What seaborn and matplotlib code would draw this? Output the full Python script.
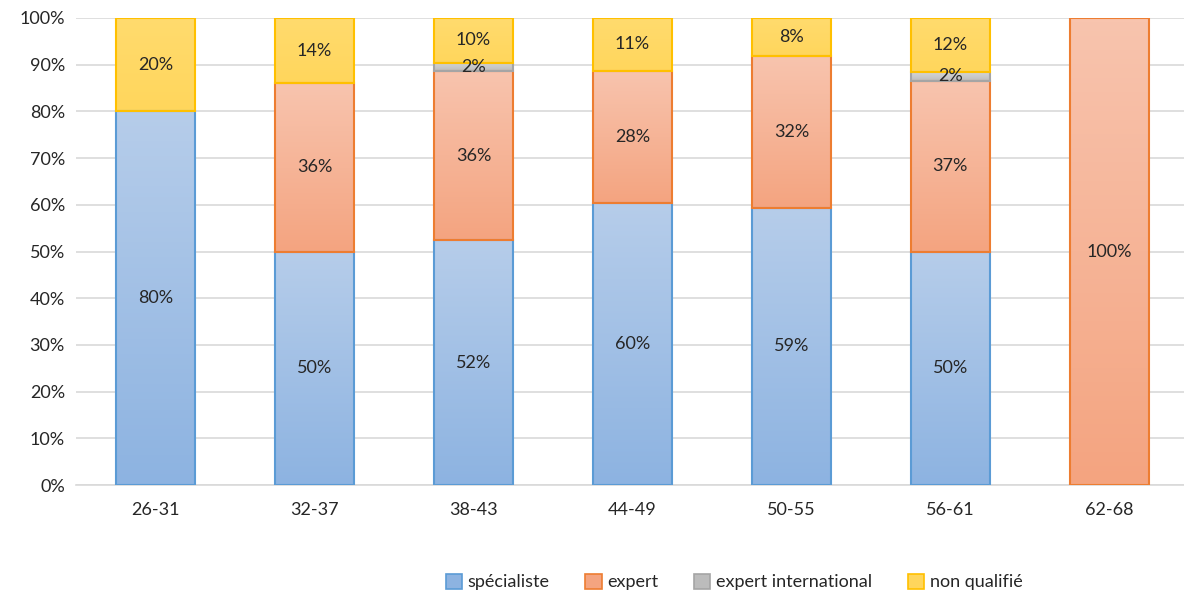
import numpy as np
import pandas as pd
import seaborn as sns
import matplotlib.pyplot as plt
from matplotlib.patches import Patch
from matplotlib.colors import LinearSegmentedColormap

ages = ['26-31', '32-37', '38-43', '44-49', '50-55', '56-61', '62-68']
specialiste = [80, 50, 52.4, 60.4, 59.4, 50.0, 0]
expert = [0, 36, 36.2, 28.3, 32.4, 36.6, 100]
expert_intl = [0, 0, 1.8, 0, 0, 1.8, 0]
non_qualifie = [20, 14, 9.6, 11.3, 8.2, 11.6, 0]

series = ['spécialiste', 'expert', 'expert international', 'non qualifié']
# (top colour, bottom colour, edge colour)
styles = {
    'spécialiste': ('#b6cdea', '#8db3e1', '#5b9bd5'),
    'expert': ('#f8c4ae', '#f4a480', '#ed7d31'),
    'expert international': ('#d6d6d6', '#bcbcbc', '#a5a5a5'),
    'non qualifié': ('#ffdb6e', '#ffd65c', '#ffc000'),
}

df = pd.DataFrame({'age': ages, 'spécialiste': specialiste, 'expert': expert,
                   'expert international': expert_intl, 'non qualifié': non_qualifie})

sns.set_theme(style='white')
plt.rcParams['font.family'] = ['Lato', 'DejaVu Sans']

fig = plt.figure(figsize=(11.84, 5.96), dpi=100)
ax = fig.add_axes([0.0642, 0.1862, 0.9358, 0.7836])

bottom = np.zeros(len(ages))
for s in series:
    top_c, bot_c, edge_c = styles[s]
    n0 = len(ax.patches)
    sns.barplot(data=df, x='age', y=s, bottom=bottom, color=bot_c, width=0.5,
                edgecolor=edge_c, linewidth=1.5, saturation=1, ax=ax, zorder=3)
    cmap = LinearSegmentedColormap.from_list(s, [bot_c, top_c])
    for p, v, b in zip(ax.patches[n0:], df[s], bottom):
        if v <= 0:
            p.set_visible(False)
            continue
        x0, y0 = p.get_x(), p.get_y()
        w, h = p.get_width(), p.get_height()
        p.set_facecolor('none')
        grad = np.linspace(0, 1, 100).reshape(-1, 1)
        im = ax.imshow(grad, cmap=cmap, origin='lower', aspect='auto',
                       extent=[x0, x0 + w, y0, y0 + h], zorder=2.5)
        im.set_clip_path(p)
        ax.text(x0 + w / 2, y0 + h / 2, f'{v:.0f}%', ha='center', va='center',
                fontsize=13, color='#262626', zorder=5)
    bottom = bottom + df[s].values

ax.set_xlim(-0.5, 6.47)
ax.set_ylim(0, 100)
ax.set_yticks(range(0, 101, 10))
ax.set_yticklabels([f'{t}%' for t in range(0, 101, 10)])
ax.yaxis.grid(True, color='#d9d9d9', linewidth=1.2, zorder=0)
ax.set_axisbelow(True)
ax.set_xlabel('')
ax.set_ylabel('')
for side in ['top', 'right', 'left']:
    ax.spines[side].set_visible(False)
ax.spines['bottom'].set_color('#d9d9d9')
ax.spines['bottom'].set_linewidth(1.2)
ax.tick_params(axis='both', length=0, labelsize=13, labelcolor='#262626')
ax.tick_params(axis='x', pad=12)
ax.tick_params(axis='y', pad=8)

handles = [Patch(facecolor=styles[s][1], edgecolor=styles[s][2], linewidth=1.2)
           for s in series]
fig.legend(handles, series, loc='center', bbox_to_anchor=(734 / 1184, 1 - 582 / 596),
           ncol=4, frameon=False, fontsize=13, handlelength=0.9, handleheight=0.9,
           handletextpad=0.3, columnspacing=2.0)

fig.savefig('out.png', dpi=100)
